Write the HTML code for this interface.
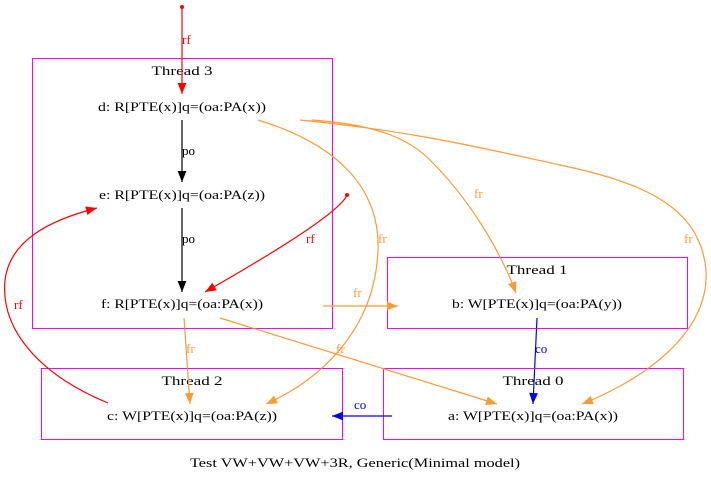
<!DOCTYPE html>
<html><head><meta charset="utf-8"><style>
html,body{margin:0;padding:0;background:#fff;}
svg{display:block;font-family:"Liberation Serif",serif;}
</style></head><body>
<svg width="711" height="481" viewBox="0 0 711 481" xmlns="http://www.w3.org/2000/svg">
<defs>
<marker id="ar" viewBox="0 0 10 10" refX="10" refY="5" markerWidth="13" markerHeight="11" markerUnits="userSpaceOnUse" orient="auto"><path d="M0,1 L10,5 L0,9 z" fill="#ff0000"/></marker>
<marker id="ak" viewBox="0 0 10 10" refX="10" refY="5" markerWidth="13" markerHeight="11" markerUnits="userSpaceOnUse" orient="auto"><path d="M0,1 L10,5 L0,9 z" fill="#000"/></marker>
<marker id="ao" viewBox="0 0 10 10" refX="10" refY="5" markerWidth="13" markerHeight="11" markerUnits="userSpaceOnUse" orient="auto"><path d="M0,1 L10,5 L0,9 z" fill="#ff9933"/></marker>
<marker id="ab" viewBox="0 0 10 10" refX="10" refY="5" markerWidth="13" markerHeight="11" markerUnits="userSpaceOnUse" orient="auto"><path d="M0,1 L10,5 L0,9 z" fill="#0000ff"/></marker>
</defs>
<g fill="none" stroke="#ff00ff" stroke-width="1">
<rect x="32.5" y="58.5" width="300" height="270"/>
<rect x="387.5" y="257.5" width="300" height="71"/>
<rect x="41.5" y="368.5" width="301" height="71"/>
<rect x="383.5" y="368.5" width="300" height="71"/>
</g>
<g font-size="13" text-anchor="middle" fill="#000" lengthAdjust="spacingAndGlyphs">
<text x="182" y="75" textLength="61" lengthAdjust="spacingAndGlyphs">Thread 3</text>
<text x="537" y="274" textLength="61" lengthAdjust="spacingAndGlyphs">Thread 1</text>
<text x="192" y="385" textLength="61" lengthAdjust="spacingAndGlyphs">Thread 2</text>
<text x="533" y="385" textLength="61" lengthAdjust="spacingAndGlyphs">Thread 0</text>
<text x="182" y="111" textLength="168" lengthAdjust="spacingAndGlyphs">d: R[PTE(x)]q=(oa:PA(x))</text>
<text x="182" y="199" textLength="166" lengthAdjust="spacingAndGlyphs">e: R[PTE(x)]q=(oa:PA(z))</text>
<text x="182" y="308" textLength="162" lengthAdjust="spacingAndGlyphs">f: R[PTE(x)]q=(oa:PA(x))</text>
<text x="537" y="308" textLength="170" lengthAdjust="spacingAndGlyphs">b: W[PTE(x)]q=(oa:PA(y))</text>
<text x="192" y="420" textLength="170" lengthAdjust="spacingAndGlyphs">c: W[PTE(x)]q=(oa:PA(z))</text>
<text x="533" y="420" textLength="170" lengthAdjust="spacingAndGlyphs">a: W[PTE(x)]q=(oa:PA(x))</text>
<text x="355" y="467" textLength="330" lengthAdjust="spacingAndGlyphs">Test VW+VW+VW+3R, Generic(Minimal model)</text>
</g>
<g fill="none" stroke-width="1.2">
<path d="M182,8 L182,94" stroke="#ff0000" marker-end="url(#ar)"/>
<path d="M182,120 L182,182" stroke="#000" marker-end="url(#ak)"/>
<path d="M182,208 L182,292" stroke="#000" marker-end="url(#ak)"/>
<path d="M347,195 C340,212 270,255 205,292" stroke="#ff0000" marker-end="url(#ar)"/>
<path d="M108,403 C40,375 0,330 5,280 C10,240 50,220 97,208" stroke="#ff0000" marker-end="url(#ar)"/>
<path d="M258,120 C340,145 380,190 378,250 C375,330 320,380 266,404" stroke="#ff9933" marker-end="url(#ao)"/>
<path d="M312,120 C380,125 410,140 430,160 C470,200 500,250 516,293" stroke="#ff9933" marker-end="url(#ao)"/>
<path d="M300,120 C420,132 490,150 560,165 C640,182 700,205 706,270 C710,340 630,385 582,404" stroke="#ff9933" marker-end="url(#ao)"/>
<path d="M323,306 L398,306" stroke="#ff9933" marker-end="url(#ao)"/>
<path d="M184,318 L190,404" stroke="#ff9933" marker-end="url(#ao)"/>
<path d="M220,318 L497,404" stroke="#ff9933" marker-end="url(#ao)"/>
<path d="M537,318 L533,404" stroke="#0000ff" marker-end="url(#ab)"/>
<path d="M392,416 L332,416" stroke="#0000ff" marker-end="url(#ab)"/>
</g>
<circle cx="182" cy="7" r="2" fill="#ff0000"/>
<circle cx="347" cy="195" r="2" fill="#ff0000"/>
<g font-size="13">
<text x="182" y="44" fill="#ff0000">rf</text>
<text x="182" y="155" fill="#000">po</text>
<text x="182" y="243" fill="#000">po</text>
<text x="306" y="243" fill="#ff0000">rf</text>
<text x="14" y="309" fill="#ff0000">rf</text>
<text x="378" y="243" fill="#ff9933">fr</text>
<text x="474" y="198" fill="#ff9933">fr</text>
<text x="684" y="243" fill="#ff9933">fr</text>
<text x="353" y="297" fill="#ff9933">fr</text>
<text x="186" y="353" fill="#ff9933">fr</text>
<text x="336" y="353" fill="#ff9933">fr</text>
<text x="535" y="353" fill="#0000ff">co</text>
<text x="354" y="409" fill="#0000ff">co</text>
</g>
</svg>
</body></html>
